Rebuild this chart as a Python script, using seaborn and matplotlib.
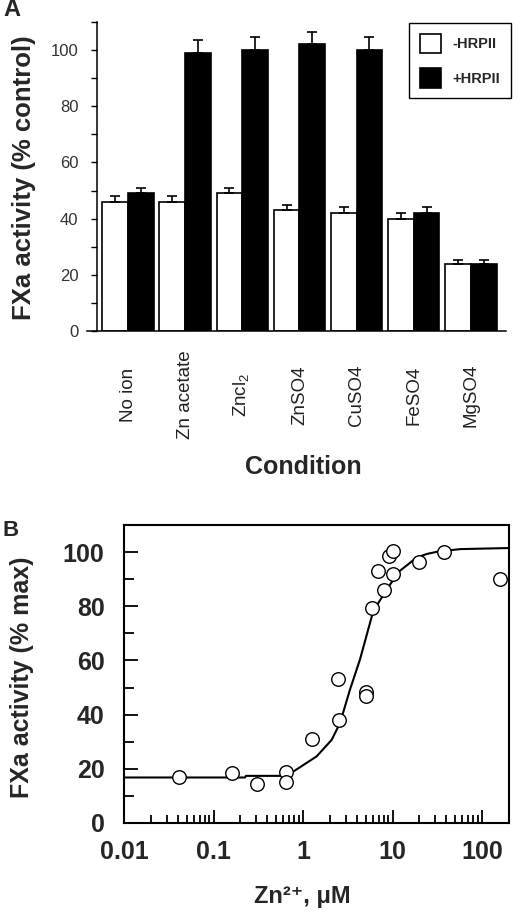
import numpy as np
import pandas as pd
import matplotlib
matplotlib.use("Agg")
import matplotlib.pyplot as plt
from matplotlib.ticker import MultipleLocator, LogLocator, NullFormatter, FixedLocator, FixedFormatter
import seaborn as sns

# ---------------- data ----------------
conditions = ["No ion", "Zn acetate", r"Zncl$_\mathregular{2}$", "ZnSO4", "CuSO4", "FeSO4", "MgSO4"]
minus_hrp = [46, 46, 49, 43, 42, 40, 24]
minus_err = [2, 2, 2, 2, 2, 2, 1.4]
plus_hrp = [49, 99, 100, 102, 100, 42, 24]
plus_err = [2, 4.5, 4.5, 4.5, 4.5, 2, 1.4]
series_names = ["-HRPII", "+HRPII"]

zn_x = [0.041, 0.16, 0.31, 0.64, 0.64, 1.27, 2.48, 2.52, 5.0, 5.0, 5.94, 6.94, 8.1, 9.2, 10.2, 10.2, 19.8, 38, 160]
zn_y = [17.1, 18.4, 14.3, 18.7, 15.3, 31.1, 53.2, 38.1, 48.4, 46.8, 79.3, 93.1, 86.0, 98.6, 100.5, 91.9, 96.2, 100.0, 90.0]

fit_x = [0.01, 0.225, 0.23, 0.59, 0.78, 1.42, 2.09, 2.59, 3.35, 4.33, 6.1, 7.57, 9.6, 12.1, 18.6, 24.1, 31.2, 56.8, 200]
fit_y = [16.8, 16.8, 17.4, 17.4, 19.0, 24.6, 30.7, 36.9, 49.3, 60.4, 78.3, 83.2, 88.5, 93.1, 98.0, 99.3, 100.1, 101.1, 101.5]

# ---------------- style ----------------
sns.set_style("white")
plt.rcParams["font.family"] = ["Liberation Sans", "DejaVu Sans"]
plt.rcParams["mathtext.fontset"] = "custom"
plt.rcParams["mathtext.rm"] = "Liberation Sans"
plt.rcParams["mathtext.bf"] = "Liberation Sans:bold"

W, H = 520, 917
fig = plt.figure(figsize=(W / 100, H / 100), dpi=100)

def fx(px):
    return px / W

def fy(py):
    return 1 - py / H

# ---------------- panel A ----------------
axA = fig.add_axes([fx(87), fy(331), fx(506) - fx(87), fy(22) - fy(331)])
df = pd.DataFrame({
    "condition": conditions * 2,
    "value": minus_hrp + plus_hrp,
    "treatment": [series_names[0]] * len(conditions) + [series_names[1]] * len(conditions),
})
sns.barplot(data=df, x="condition", y="value", hue="treatment", order=conditions,
            hue_order=series_names, palette={series_names[0]: "white", series_names[1]: "black"},
            edgecolor="black", linewidth=1.2, errorbar=None, width=0.9, ax=axA)

for cont, vals, errs in zip(axA.containers, [minus_hrp, plus_hrp], [minus_err, plus_err]):
    xs = [b.get_x() + b.get_width() / 2 for b in cont]
    axA.errorbar(xs, vals, yerr=[np.zeros(len(errs)), errs], fmt="none", ecolor="black",
                 elinewidth=1.2, capsize=3.6, capthick=1.2, zorder=1)

axA.set_xlim(-0.718, 6.615)
axA.set_ylim(0, 110)
axA.spines["top"].set_visible(False)
axA.spines["right"].set_visible(False)
axA.spines["left"].set_position(("data", -0.54))
for s in ["left", "bottom"]:
    axA.spines[s].set_linewidth(1.1)
    axA.spines[s].set_color("black")
axA.yaxis.set_major_locator(MultipleLocator(20))
axA.yaxis.set_minor_locator(MultipleLocator(10))
axA.tick_params(axis="y", which="both", direction="out", length=4.5, width=1, color="black",
                labelsize=12, labelcolor="#333333", pad=9, left=True)
axA.tick_params(axis="x", length=0, labelsize=13.5, labelcolor="#222222", pad=46)
for lab in axA.get_xticklabels():
    lab.set_rotation(90)
    lab.set_va("center")
    lab.set_ha("center")
axA.set_xlabel("")
axA.set_ylabel("")

handles, labels = axA.get_legend_handles_labels()
if axA.get_legend() is not None:
    axA.get_legend().remove()
leg = fig.legend(handles, labels, loc="upper right", bbox_to_anchor=(fx(511), fy(23)),
                 frameon=True, fancybox=False, edgecolor="black", framealpha=1,
                 prop={"weight": "bold", "size": 10.5}, handlelength=1.44, handleheight=1.68,
                 handletextpad=0.8, labelspacing=1.0, borderpad=0.75, borderaxespad=0)
leg.get_frame().set_linewidth(1.0)

fig.text(fx(24), fy(178), "FXa activity (% control)", rotation=90, ha="center", va="center",
         fontsize=18.5, fontweight="bold")
fig.text(fx(303), fy(467), "Condition", ha="center", va="center", fontsize=18, fontweight="bold")
fig.text(fx(3), fy(10), "A", ha="left", va="center", fontsize=17, fontweight="bold")

# ---------------- panel B ----------------
axB = fig.add_axes([fx(124), fy(823), fx(509) - fx(124), fy(525) - fy(823)])
axB.set_xscale("log")
sns.lineplot(x=fit_x, y=fit_y, color="black", linewidth=1.5, estimator=None, sort=False, ax=axB, zorder=2)
sns.scatterplot(x=zn_x, y=zn_y, marker="o", s=95, facecolor="white", edgecolor="black",
                linewidth=1.0, ax=axB, zorder=3)
axB.set_xlim(0.01, 200)
axB.set_ylim(0, 110)
for s in axB.spines.values():
    s.set_linewidth(1.5)
    s.set_color("black")
    s.set_visible(True)
axB.yaxis.set_major_locator(MultipleLocator(20))
axB.yaxis.set_minor_locator(MultipleLocator(10))
axB.xaxis.set_major_locator(FixedLocator([0.01, 0.1, 1, 10, 100]))
axB.xaxis.set_major_formatter(FixedFormatter(["0.01", "0.1", "1", "10", "100"]))
axB.xaxis.set_minor_locator(LogLocator(base=10, subs=np.arange(2, 10)))
axB.xaxis.set_minor_formatter(NullFormatter())
axB.tick_params(axis="both", which="both", direction="in", color="black", width=1.3,
                top=False, right=False, left=True, bottom=True)
axB.tick_params(axis="y", which="major", length=10, labelsize=18, pad=14)
axB.tick_params(axis="y", which="minor", length=7)
axB.tick_params(axis="x", which="major", length=9.5, labelsize=18, pad=12)
axB.tick_params(axis="x", which="minor", length=5.5)
for lab in axB.get_xticklabels() + axB.get_yticklabels():
    lab.set_fontweight("bold")
axB.set_xlabel("")
axB.set_ylabel("")

fig.text(fx(22), fy(677), "FXa activity (% max)", rotation=90, ha="center", va="center",
         fontsize=18, fontweight="bold")
fig.text(fx(302), fy(897), "Zn²⁺, μM", ha="center", va="center",
         fontsize=17, fontweight="bold")
fig.text(fx(3), fy(530), "B", ha="left", va="center", fontsize=16, fontweight="bold")

fig.savefig("out.png", dpi=100)
